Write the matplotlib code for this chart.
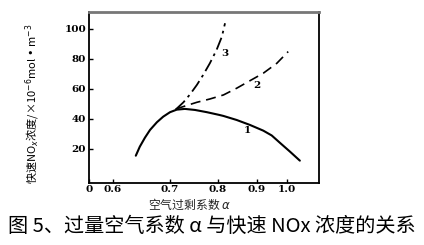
import numpy as np
import matplotlib
matplotlib.use("Agg")
import matplotlib.pyplot as plt

plt.rcParams['font.family'] = ['Noto Sans CJK SC', 'DejaVu Sans']

# 曲线 1: 实线
a1 = [0.640, 0.647, 0.656, 0.665, 0.677, 0.688, 0.700, 0.714, 0.731, 0.752,
      0.777, 0.803, 0.814, 0.848, 0.882, 0.921, 0.949, 0.977, 1.010, 1.043]
y1 = [15.5, 21.5, 27.5, 32.7, 37.8, 41.5, 44.5, 46.2, 46.7, 46.0,
      44.5, 42.7, 42.0, 39.3, 36.0, 32.2, 29.0, 24.0, 18.2, 12.2]
# 曲线 2: 虚线
a2 = [0.712, 0.735, 0.756, 0.783, 0.814, 0.848, 0.882, 0.921, 0.966, 1.004]
y2 = [46.6, 49.0, 51.1, 53.3, 56.0, 60.5, 65.5, 70.5, 77.1, 84.9]
# 曲线 3: 点划线
a3 = [0.712, 0.728, 0.742, 0.756, 0.769, 0.783, 0.797, 0.810, 0.818]
y3 = [46.3, 51.1, 56.5, 62.7, 69.3, 77.1, 86.0, 94.9, 103.8]

xticks = [0, 0.6, 0.7, 0.8, 0.9, 1.0]
xticklabels = ["0", "0.6", "0.7", "0.8", "0.9", "1.0"]
yticks = [20, 40, 60, 80, 100]

# 原图横轴刻度间距不均匀, 用分段线性刻度还原
knot_a = np.array([0.0, 0.6, 0.7, 0.8, 0.9, 1.0, 1.107])
knot_p = np.array([89, 113, 170, 218, 257, 287, 319], dtype=float)

def fwd(a):
    return np.interp(a, knot_a, knot_p)

def inv(p):
    return np.interp(p, knot_p, knot_a)

fig = plt.figure(figsize=(4.24, 2.45), dpi=100)
ax = fig.add_axes([89 / 424, 62 / 245, 230 / 424, 171 / 245])
ax.set_xscale('function', functions=(fwd, inv))

ax.plot(a1, y1, color="black", lw=1.5, solid_capstyle="round", solid_joinstyle="round")
ax.plot(a2, y2, color="black", lw=1.2, linestyle=(0, (6, 3.5)))
ax.plot(a3, y3, color="black", lw=1.3, linestyle=(0, (7, 2.5, 1.5, 2.5)))

serif = dict(family="DejaVu Serif", fontweight="bold", fontsize=7.5)
ax.text(0.876, 32.3, "1", ha="center", va="center", **serif)
ax.text(0.899, 62.0, "2", ha="center", va="center", **serif)
ax.text(0.818, 83.8, "3", ha="center", va="center", **serif)

ax.set_xlim(0, 1.107)
ax.set_ylim(-2.7, 111.3)
ax.set_xticks(xticks)
ax.set_xticklabels(xticklabels)
ax.set_yticks(yticks)
for lab in ax.get_xticklabels() + ax.get_yticklabels():
    lab.set_family("DejaVu Serif")
    lab.set_fontweight("bold")
    lab.set_fontsize(7.5)
ax.tick_params(direction="in", length=3, width=1, pad=2)
ax.tick_params(axis="x", pad=1.5)

for s in ax.spines.values():
    s.set_linewidth(1.3)
ax.spines["top"].set_color("#777777")
ax.spines["top"].set_linewidth(2)

ax.set_xlabel("空气过剩系数 $\\alpha$", fontsize=8.5, color="#222222")
ax.xaxis.set_label_coords(0.435, -0.08)
ax.set_ylabel("快速NO$_x$浓度/×10$^{-6}$mol • m$^{-3}$", fontsize=8)
ax.yaxis.set_label_coords(-0.205, 0.46)

fig.text(0.5, 19 / 245, "图 5、过量空气系数 α 与快速 NOx 浓度的关系",
         ha="center", va="center", fontsize=14.5)

fig.savefig("out.png", dpi=100)
